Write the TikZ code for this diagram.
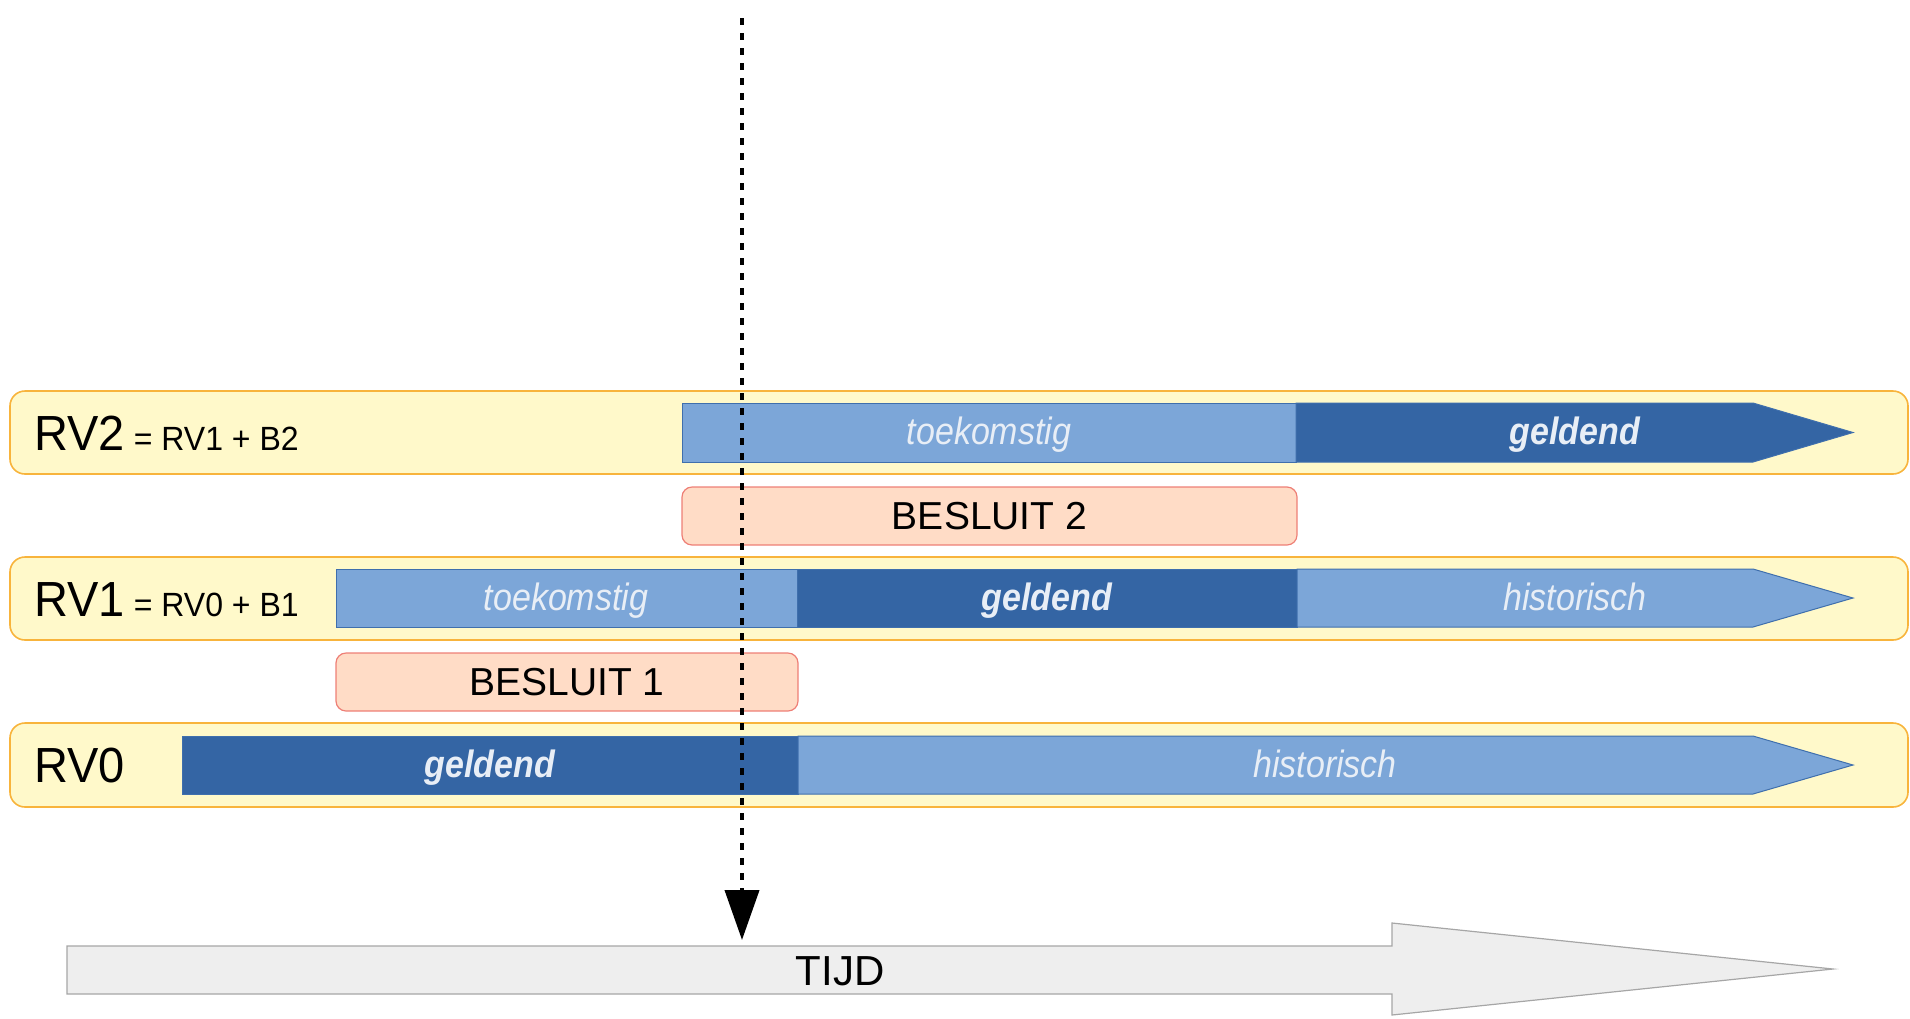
\documentclass[tikz,border=0pt]{standalone}
\usepackage{fontspec}
\setmainfont{Liberation Sans}
\usetikzlibrary{arrows.meta}
\definecolor{bandfill}{HTML}{FFF9CA}
\definecolor{bandline}{HTML}{F8B43C}
\definecolor{lightbar}{HTML}{7CA6D8}
\definecolor{darkbar}{HTML}{3465A4}
\definecolor{barline}{HTML}{3F6FAD}
\definecolor{bartextcol}{HTML}{E8EEF6}
\definecolor{besfill}{HTML}{FFDCC6}
\definecolor{besline}{HTML}{EE7F76}
\definecolor{timefill}{HTML}{EEEEEE}
\definecolor{timeline}{HTML}{A6A6A6}
\tikzset{
  band/.style={fill=bandfill, draw=bandline, line width=0.8pt, rounded corners=7.5pt},
  lightseg/.style={fill=lightbar, draw=barline, line width=0.5pt},
  darkseg/.style={fill=darkbar, draw=barline, line width=0.5pt},
  bartext/.style={text=bartextcol, inner sep=0pt, anchor=base, font=\fontsize{17pt}{20pt}\selectfont\itshape},
  boldbartext/.style={text=bartextcol, inner sep=0pt, anchor=base, font=\fontsize{17pt}{20pt}\selectfont\bfseries\itshape},
  besbox/.style={fill=besfill, draw=besline, line width=0.6pt, rounded corners=5pt},
  bestext/.style={inner sep=0pt, font=\fontsize{19.5pt}{23pt}\selectfont},
  rvlabel/.style={inner sep=0pt, anchor=base west},
  probe/.style={line width=2pt, dash pattern=on 3.5pt off 4pt, -{Triangle[length=25pt,width=17pt]}},
  timearrow/.style={fill=timefill, draw=timeline, line width=0.6pt},
}
\newcommand{\bigrv}[1]{{\fontsize{23.5pt}{28pt}\selectfont\scalebox{1}[1.05]{#1}}}
\newcommand{\smallrv}[1]{{\fontsize{16pt}{19pt}\selectfont\scalebox{1}[1.05]{#1}}}
\newcommand{\tall}[1]{\scalebox{1}[1.12]{#1}}
\begin{document}
\begin{tikzpicture}[x=0.5pt,y=-0.5pt]
\useasboundingbox (0,0) rectangle (1910,1018);

% bands
\draw[band] (10,391) rectangle (1908,474);
\draw[band] (10,557) rectangle (1908,640);
\draw[band] (10,723) rectangle (1908,807);

% RV2 bar
\draw[lightseg] (682,403) rectangle (1296,462);
\draw[darkseg] (1296,403) -- (1753,403) -- (1853,432.5) -- (1753,462) -- (1296,462) -- cycle;
\node[bartext] (rv2toek) at (989,444) {\tall{toekomstig}};
\node[boldbartext] (rv2geld) at (1575,444) {\tall{geldend}};

% RV1 bar
\draw[lightseg] (336,569) rectangle (797,627);
\draw[darkseg] (797,569) rectangle (1297,627);
\draw[lightseg] (1297,569) -- (1753,569) -- (1853,598) -- (1753,627) -- (1297,627) -- cycle;
\node[bartext] (rv1toek) at (566,610) {\tall{toekomstig}};
\node[boldbartext] (rv1geld) at (1047,610) {\tall{geldend}};
\node[bartext] (rv1hist) at (1575,610) {\tall{historisch}};

% RV0 bar
\draw[darkseg] (182,736) rectangle (798,794);
\draw[lightseg] (798,736) -- (1753,736) -- (1853,765) -- (1753,794) -- (798,794) -- cycle;
\node[boldbartext] (rv0geld) at (490,777) {\tall{geldend}};
\node[bartext] (rv0hist) at (1325,777) {\tall{historisch}};

% besluit boxes
\draw[besbox] (682,487) rectangle (1297,545);
\node[bestext] (b2) at (989.5,516) {BESLUIT 2};
\draw[besbox] (336,653) rectangle (798,711);
\node[bestext] (b1) at (567,682) {BESLUIT 1};

% labels
\node[rvlabel] (rv2) at (34,450) {\bigrv{RV2}\smallrv{ = RV1 + B2}};
\node[rvlabel] (rv1) at (34,616) {\bigrv{RV1}\smallrv{ = RV0 + B1}};
\node[rvlabel] (rv0) at (34,782) {\bigrv{RV0}};

% time arrow
\draw[timearrow] (67,946) -- (1392,946) -- (1392,923) -- (1833,969) -- (1392,1015) -- (1392,994) -- (67,994) -- cycle;
\node[inner sep=0pt, font=\fontsize{21pt}{25pt}\selectfont] (tijd) at (840,971) {TIJD};

% probe line
\coordinate (probeTop) at (742,18);
\coordinate (probeEnd) at (742,940);
\draw[probe] (probeTop) -- (probeEnd);
\end{tikzpicture}
\end{document}
